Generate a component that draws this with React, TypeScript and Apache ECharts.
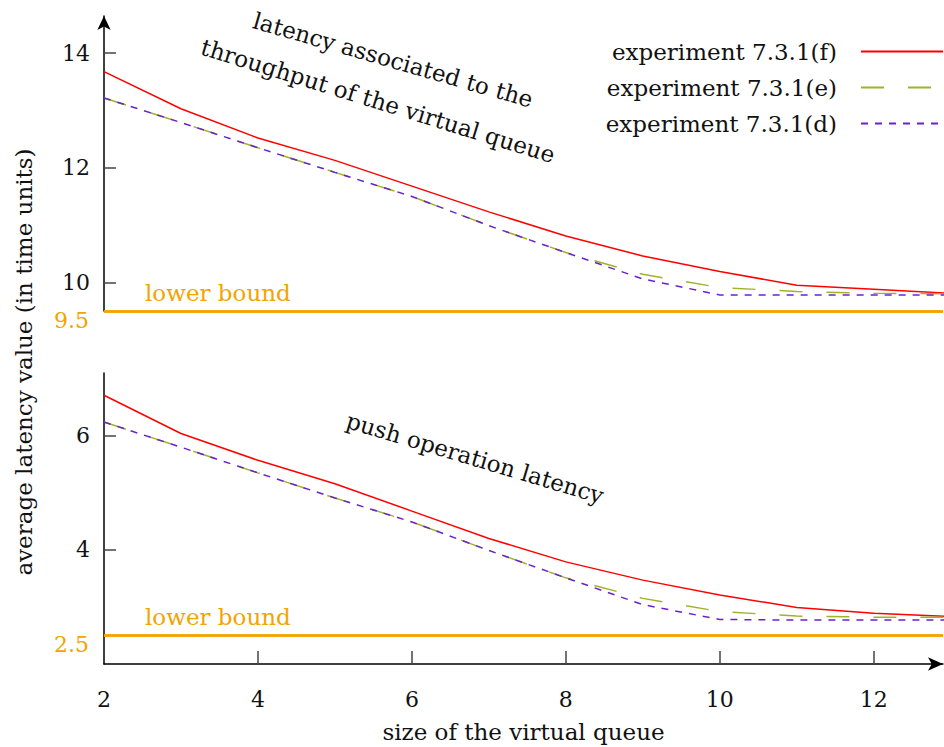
import React, { useEffect, useRef } from "react";
import * as echarts from "echarts";

const xs = [2, 3, 4, 5, 6, 7, 8, 9, 10, 11, 12, 13];

const topF = [13.68, 13.03, 12.52, 12.13, 11.68, 11.23, 10.81, 10.46, 10.19, 9.95, 9.88, 9.81];
const topE = [13.22, 12.79, 12.35, 11.92, 11.5, 10.99, 10.52, 10.14, 9.91, 9.84, 9.81, 9.8];
const topD = [13.22, 12.79, 12.35, 11.92, 11.5, 10.99, 10.52, 10.06, 9.78, 9.78, 9.78, 9.78];

const botF = [6.71, 6.04, 5.57, 5.16, 4.68, 4.2, 3.79, 3.47, 3.21, 2.99, 2.89, 2.83];
const botE = [6.24, 5.8, 5.35, 4.91, 4.49, 3.99, 3.51, 3.15, 2.92, 2.84, 2.82, 2.82];
const botD = [6.24, 5.8, 5.35, 4.91, 4.49, 3.99, 3.51, 3.04, 2.78, 2.77, 2.77, 2.77];

const seriesNames = ["experiment 7.3.1(f)", "experiment 7.3.1(e)", "experiment 7.3.1(d)"];
const topTicks = [10, 12, 14];
const botTicks = [4, 6];
const xLabels = [2, 4, 6, 8, 10, 12];
const xTickMarks = [4, 6, 8, 10, 12];
const topLowerBound = 9.5;
const botLowerBound = 2.5;

const FONT = '"DejaVu Serif", serif';
const RED = "#ff0000";
const GREEN = "#9fb32a";
const PURPLE = "#6a22cc";
const ORANGE = "#f2a400";
const TEXT = "#111111";

function pairs(vals: number[]) {
  return xs.map((x, i) => [x, vals[i]]);
}

function lowerBoundMark(v: number) {
  return {
    silent: true,
    symbol: ["none", "none"],
    animation: false,
    lineStyle: { color: ORANGE, width: 2.5, type: "solid" },
    emphasis: { disabled: true },
    data: [
      {
        yAxis: v,
        label: {
          show: true,
          position: "insideStartTop",
          formatter: "lower bound",
          color: ORANGE,
          fontSize: 23,
          fontFamily: FONT,
          distance: 7,
          padding: [0, 0, 0, 34],
        },
      },
      {
        yAxis: v,
        label: {
          show: true,
          position: "start",
          formatter: "{o|" + String(v) + "}",
          distance: 15,
          rich: {
            o: { color: ORANGE, fontSize: 22, fontFamily: FONT, padding: [19, 0, 0, 0] },
          },
        },
      },
    ],
  };
}

function makeSeries(grid: number, f: number[], e: number[], d: number[], lb: number) {
  return [
    {
      name: seriesNames[0],
      type: "line",
      xAxisIndex: grid,
      yAxisIndex: grid,
      data: pairs(f),
      symbol: "none",
      showSymbol: false,
      clip: true,
      lineStyle: { color: RED, width: 1.5, type: "solid" },
      itemStyle: { color: RED },
      markLine: lowerBoundMark(lb),
    },
    {
      name: seriesNames[1],
      type: "line",
      xAxisIndex: grid,
      yAxisIndex: grid,
      data: pairs(e),
      symbol: "none",
      showSymbol: false,
      clip: true,
      lineStyle: { color: GREEN, width: 1.5, type: [23, 24] },
      itemStyle: { color: GREEN },
    },
    {
      name: seriesNames[2],
      type: "line",
      xAxisIndex: grid,
      yAxisIndex: grid,
      data: pairs(d),
      symbol: "none",
      showSymbol: false,
      clip: true,
      lineStyle: { color: PURPLE, width: 1.5, type: [7, 7] },
      itemStyle: { color: PURPLE },
    },
  ];
}

function yAxisDef(grid: number, min: number, max: number, ticks: number[], arrow: boolean) {
  return {
    type: "value",
    gridIndex: grid,
    min,
    max,
    axisLine: {
      show: true,
      onZero: false,
      symbol: arrow ? ["none", "arrow"] : ["none", "none"],
      symbolSize: [10, 14],
      lineStyle: { color: "#000", width: 1.5 },
    },
    axisTick: {
      show: true,
      inside: true,
      length: 12,
      customValues: ticks,
      lineStyle: { color: "#444", width: 1.5 },
    },
    axisLabel: {
      show: true,
      customValues: ticks,
      margin: 14,
      fontSize: 22,
      fontFamily: FONT,
      color: TEXT,
    },
    splitLine: { show: false },
  };
}

export default function App() {
  const ref = useRef<HTMLDivElement>(null);

  useEffect(() => {
    if (!ref.current) return;
    const chart = echarts.init(ref.current, undefined, { renderer: "svg" });
    const option: any = {
      animation: false,
      backgroundColor: "#ffffff",
      textStyle: { fontFamily: FONT },
      grid: [
        { left: 104, right: 1, top: 16, height: 295 },
        { left: 104, right: 1, top: 373, height: 291 },
      ],
      legend: {
        data: seriesNames,
        orient: "vertical",
        right: 0,
        top: 40,
        align: "right",
        padding: 0,
        itemWidth: 82,
        itemHeight: 14,
        itemGap: 13,
        selectedMode: false,
        itemStyle: { opacity: 0, borderWidth: 0 },
        textStyle: { fontSize: 23, fontFamily: FONT, color: TEXT, padding: [0, 19, 0, 0] },
      },
      xAxis: [
        { type: "value", gridIndex: 0, min: 2, max: 12.9, show: false },
        {
          type: "value",
          gridIndex: 1,
          min: 2,
          max: 12.9,
          axisLine: {
            show: true,
            onZero: false,
            symbol: ["none", "arrow"],
            symbolSize: [10, 15],
            lineStyle: { color: "#000", width: 1.5 },
          },
          axisTick: {
            show: true,
            inside: true,
            length: 13,
            customValues: xTickMarks,
            lineStyle: { color: "#444", width: 1.5 },
          },
          axisLabel: {
            show: true,
            customValues: xLabels,
            margin: 24,
            fontSize: 22,
            fontFamily: FONT,
            color: TEXT,
          },
          splitLine: { show: false },
          name: "size of the virtual queue",
          nameLocation: "middle",
          nameGap: 56,
          nameTextStyle: { fontSize: 23, fontFamily: FONT, color: TEXT },
        },
      ],
      yAxis: [
        yAxisDef(0, 9.5, 14.65, topTicks, true),
        yAxisDef(1, 2, 7.1, botTicks, false),
      ],
      series: [
        ...makeSeries(0, topF, topE, topD, topLowerBound),
        ...makeSeries(1, botF, botE, botD, botLowerBound),
      ],
      graphic: [
        {
          type: "text",
          x: 24,
          y: 362,
          rotation: Math.PI / 2,
          style: {
            text: "average latency value (in time units)",
            fontSize: 23,
            fontFamily: FONT,
            fill: TEXT,
            textAlign: "center",
            textVerticalAlign: "middle",
          },
        },
        {
          type: "text",
          x: 393,
          y: 60,
          rotation: -0.28,
          style: {
            text: "latency associated to the",
            fontSize: 23,
            fontFamily: FONT,
            fill: TEXT,
            textAlign: "center",
            textVerticalAlign: "middle",
          },
        },
        {
          type: "text",
          x: 378,
          y: 101,
          rotation: -0.3,
          style: {
            text: "throughput of the virtual queue",
            fontSize: 23,
            fontFamily: FONT,
            fill: TEXT,
            textAlign: "center",
            textVerticalAlign: "middle",
          },
        },
        {
          type: "text",
          x: 475,
          y: 458,
          rotation: -0.29,
          style: {
            text: "push operation latency",
            fontSize: 23,
            fontFamily: FONT,
            fill: TEXT,
            textAlign: "center",
            textVerticalAlign: "middle",
          },
        },
      ],
    };
    chart.setOption(option);
    return () => {
      chart.dispose();
    };
  }, []);

  return (
    <div
      ref={ref}
      style={{ width: 944, height: 747, position: "absolute", left: 0, top: 0 }}
    />
  );
}
